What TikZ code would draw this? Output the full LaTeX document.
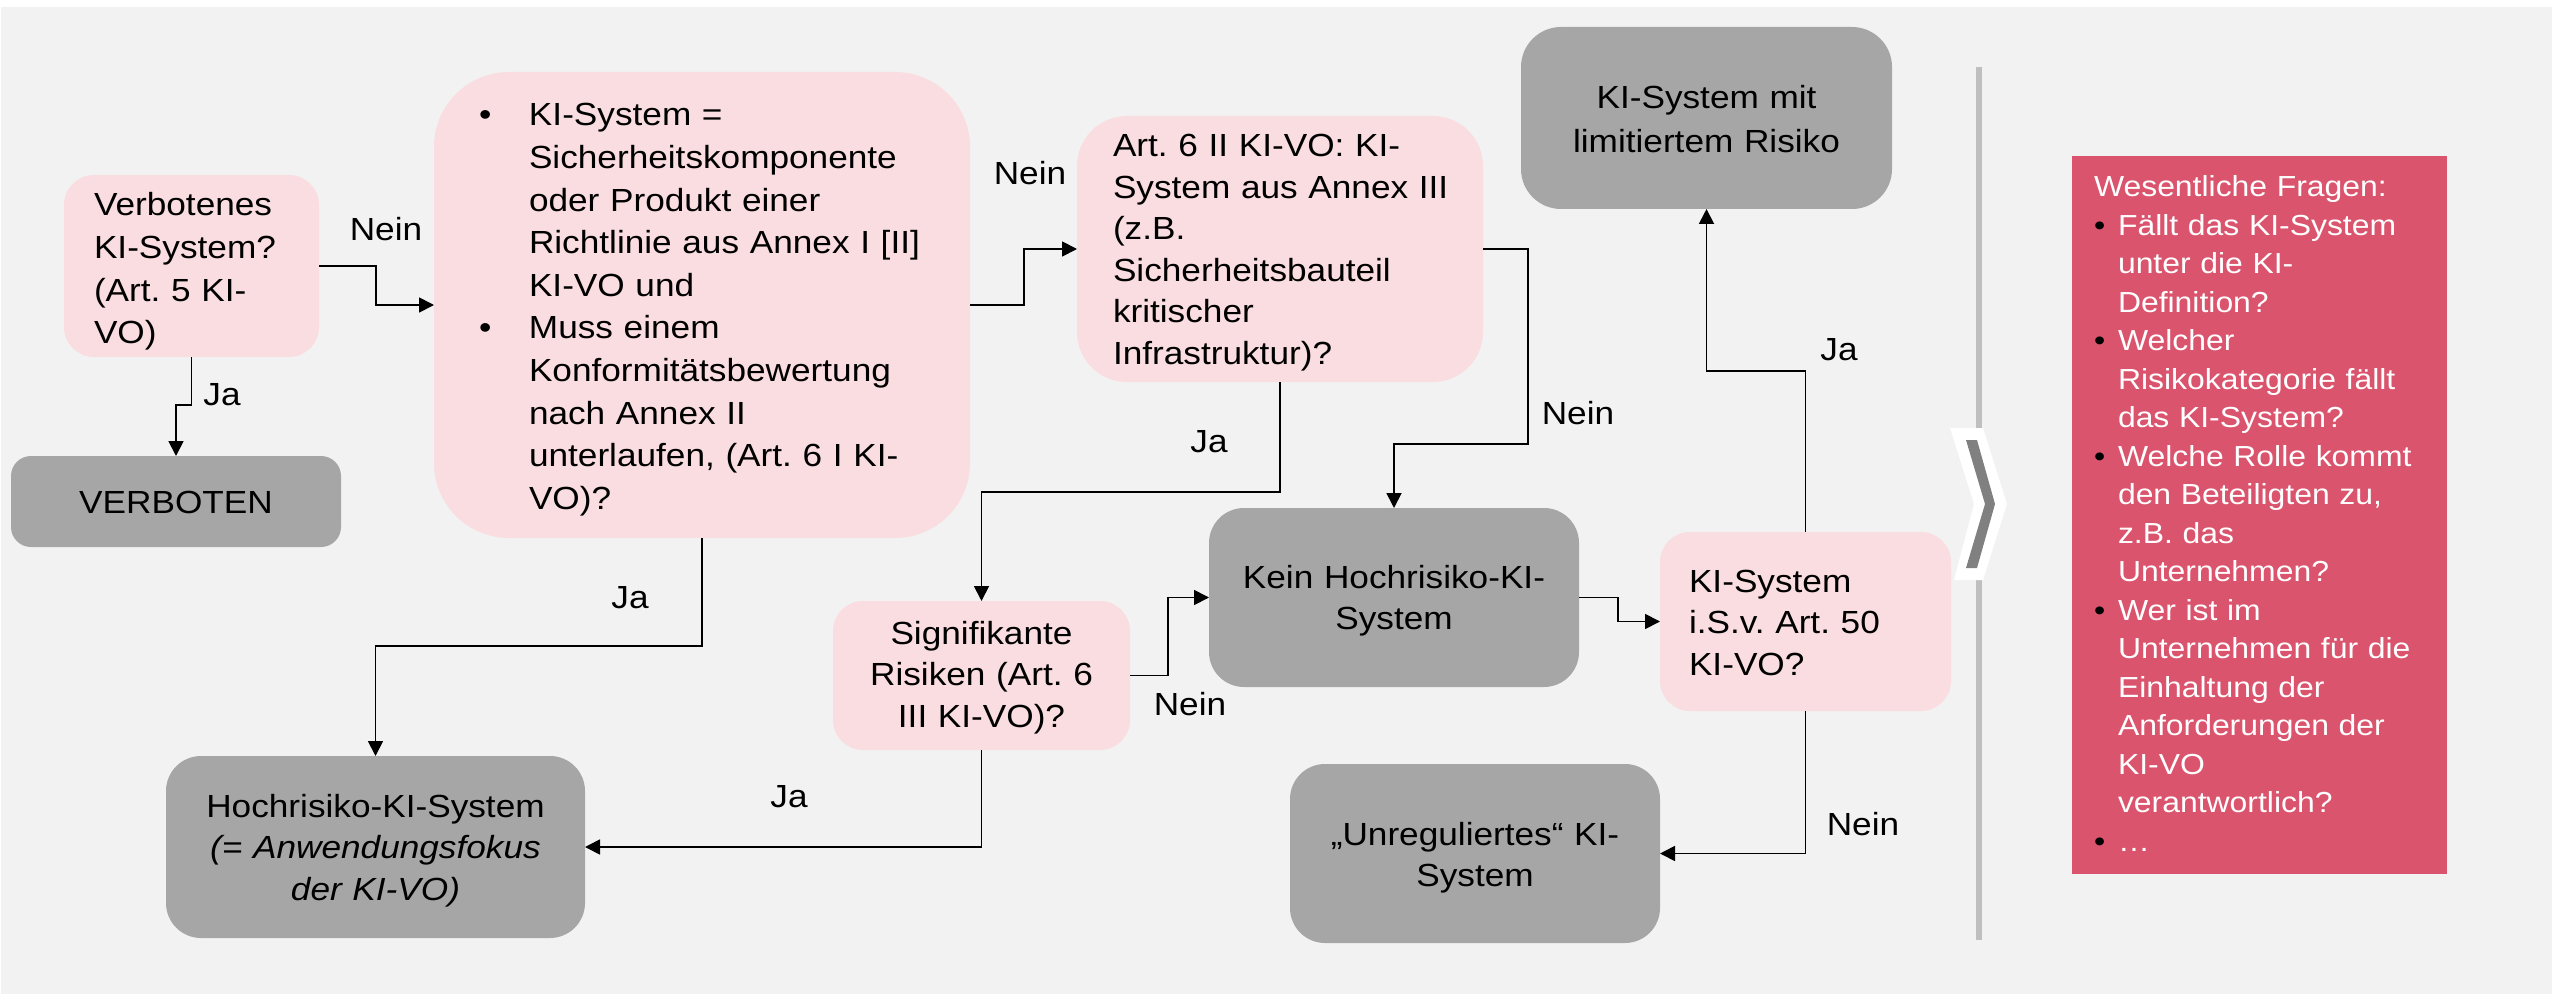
\documentclass[tikz,border=0pt]{standalone}
\usepackage{fontspec}
\setmainfont{Liberation Sans}[FakeStretch=1.1]
\usetikzlibrary{arrows.meta}
\definecolor{bgc}{HTML}{F2F2F2}
\definecolor{pinkc}{HTML}{F9DDE0}
\definecolor{grayc}{HTML}{A6A6A6}
\definecolor{redc}{HTML}{DA546D}
\definecolor{sepc}{HTML}{BFBFBF}
\definecolor{chevc}{HTML}{808080}
\newcommand\mainfs{\fontsize{32pt}{42.6pt}\selectfont}
\newcommand\boxfs{\fontsize{32pt}{41.5pt}\selectfont}
\newcommand\panelfs{\fontsize{29pt}{38.5pt}\selectfont}
\newcommand\bigbul{\makebox[50pt][l]{\textbullet}}
\newcommand\bigind{\hspace*{50pt}}
\newcommand\panbul{\makebox[24pt][l]{\color{black}\textbullet}}
\newcommand\panind{\hspace*{24pt}}
\frenchspacing
\begin{document}
\frenchspacing
\begin{tikzpicture}[x=1pt,y=-1pt,
  boxbase/.style={inner sep=0pt, outer sep=0pt},
  pinkbox/.style={boxbase, fill=pinkc},
  graybox/.style={boxbase, fill=grayc},
  txt/.style={inner sep=0pt, outer sep=0pt, font=\mainfs},
  lbl/.style={inner sep=0pt, outer sep=0pt, anchor=base, font=\mainfs},
  conn/.style={draw=black, line width=1.8pt, -{Triangle[length=15pt,width=15pt]}},
]
\useasboundingbox (0,0) rectangle (2552,995);
\fill[bgc] (1,7) rectangle (2552,994);

% ---------- boxes ----------
\node[pinkbox, rounded corners=30pt, minimum width=255pt, minimum height=182pt] (verb) at (191.5,266) {};
\node[graybox, rounded corners=20pt, minimum width=330pt, minimum height=91pt] (verboten) at (176,501.5) {};
\node[pinkbox, rounded corners=75pt, minimum width=536pt, minimum height=466pt] (big) at (702,305) {};
\node[pinkbox, rounded corners=50pt, minimum width=406pt, minimum height=266pt] (art6) at (1280,249) {};
\node[graybox, rounded corners=35pt, minimum width=419pt, minimum height=182pt] (hoch) at (375.5,847) {};
\node[pinkbox, rounded corners=30pt, minimum width=297pt, minimum height=149pt] (sig) at (981.5,675.5) {};
\node[graybox, rounded corners=35pt, minimum width=370pt, minimum height=179pt] (kein) at (1394,597.5) {};
\node[pinkbox, rounded corners=30pt, minimum width=291pt, minimum height=179pt] (isv) at (1805.5,621.5) {};
\node[graybox, rounded corners=35pt, minimum width=370pt, minimum height=179pt] (unreg) at (1475,853.5) {};
\node[graybox, rounded corners=40pt, minimum width=371pt, minimum height=182pt] (lim) at (1706.5,118) {};
\node[boxbase, fill=redc, minimum width=375pt, minimum height=718pt] (panel) at (2259.5,515) {};

% ---------- box texts ----------
\node[txt, anchor=base west, text width=240pt, align=left] (tverb) at (94,216)
  {Verbotenes\\KI-System?\\(Art. 5 KI-\\VO)};
\node[txt, anchor=base, text width=330pt, align=center] (tverboten) at (176,513) {VERBOTEN};
\node[txt, anchor=base west, text width=470pt, align=left] (tbig) at (479,126)
  {\bigbul KI-System =\\\bigind Sicherheitskomponente\\\bigind oder Produkt einer\\\bigind Richtlinie aus Annex I [II]\\\bigind KI-VO und\\
   \bigbul Muss einem\\\bigind Konformitätsbewertung\\\bigind nach Annex II\\\bigind unterlaufen, (Art. 6 I KI-\\\bigind VO)?};
\node[txt, font=\boxfs, anchor=base west, text width=380pt, align=left] (tart6) at (1113,157)
  {Art. 6 II KI-VO: KI-\\System aus Annex III\\(z.B.\\Sicherheitsbauteil\\kritischer\\Infrastruktur)?};
\node[txt, font=\boxfs, anchor=base, text width=419pt, align=center] (thoch) at (375.5,817)
  {Hochrisiko-KI-System\\\textit{(= Anwendungsfokus}\\\textit{der KI-VO)}};
\node[txt, font=\boxfs, anchor=base, text width=297pt, align=center] (tsig) at (981.5,644)
  {Signifikante\\Risiken (Art. 6\\III KI-VO)?};
\node[txt, font=\boxfs, anchor=base, text width=370pt, align=center] (tkein) at (1394,588)
  {Kein Hochrisiko-KI-\\System};
\node[txt, font=\boxfs, anchor=base west, text width=260pt, align=left] (tisv) at (1689,592)
  {KI-System\\i.S.v. Art. 50\\KI-VO?};
\node[txt, font=\boxfs, anchor=base, text width=370pt, align=center] (tunreg) at (1475,845)
  {„Unreguliertes“ KI-\\System};
\node[txt, font={\fontsize{32pt}{43.4pt}\selectfont}, anchor=base, text width=371pt, align=center] (tlim) at (1706.5,109)
  {KI-System mit\\limitiertem Risiko};
\node[inner sep=0pt, outer sep=0pt, font=\panelfs, text=white, anchor=base west, text width=360pt, align=left] (tpanel) at (2094,197)
  {Wesentliche Fragen:\\
   \panbul Fällt das KI-System\\\panind unter die KI-\\\panind Definition?\\
   \panbul Welcher\\\panind Risikokategorie fällt\\\panind das KI-System?\\
   \panbul Welche Rolle kommt\\\panind den Beteiligten zu,\\\panind z.B. das\\\panind Unternehmen?\\
   \panbul Wer ist im\\\panind Unternehmen für die\\\panind Einhaltung der\\\panind Anforderungen der\\\panind KI-VO\\\panind verantwortlich?\\
   \panbul …};

% ---------- connectors ----------
\draw[conn] (verb.east) -- ++(57,0) |- (big.west);
\draw[conn] (verb.south) -- ++(0,48) -| (verboten.north);
\draw[conn] (big.east) -- ++(54,0) |- (art6.west);
\draw[conn] (big.south) -- ++(0,108) -| (hoch.north);
\draw[conn] (art6.south) -- ++(0,110) -| (sig.north);
\draw[conn] (art6.east) -- ++(45,0) -- ++(0,195) -| (kein.north);
\draw[conn] (sig.east) -- ++(38,0) |- (kein.west);
\draw[conn] (sig.south) |- (hoch.east);
\draw[conn] (kein.east) -- ++(39,0) |- (isv.west);
\draw[conn] (isv.north) -- ++(0,-161) -| (lim.south);
\draw[conn] (isv.south) |- (unreg.east);

% ---------- connector labels ----------
\node[lbl] (n1) at (386,241) {Nein};
\node[lbl] (j1) at (222,405) {Ja};
\node[lbl] (n2) at (1030,185) {Nein};
\node[lbl] (j2) at (630,608) {Ja};
\node[lbl] (j3) at (1209,452) {Ja};
\node[lbl] (n3) at (1578,424) {Nein};
\node[lbl] (n4) at (1190,715) {Nein};
\node[lbl] (j4) at (789,807) {Ja};
\node[lbl] (j5) at (1839,360) {Ja};
\node[lbl] (n5) at (1863,835) {Nein};

% ---------- separator and chevron ----------
\fill[sepc] (1976,67) rectangle (1982,940);
\fill[white] (1950,428) -- (1983,428) -- (2007,504) -- (1983,580) -- (1954,580) -- (1974,504) -- cycle;
\fill[chevc] (1966,440) -- (1977,440) -- (1995,504) -- (1977,568) -- (1966,568) -- (1985,504) -- cycle;
\end{tikzpicture}
\end{document}
